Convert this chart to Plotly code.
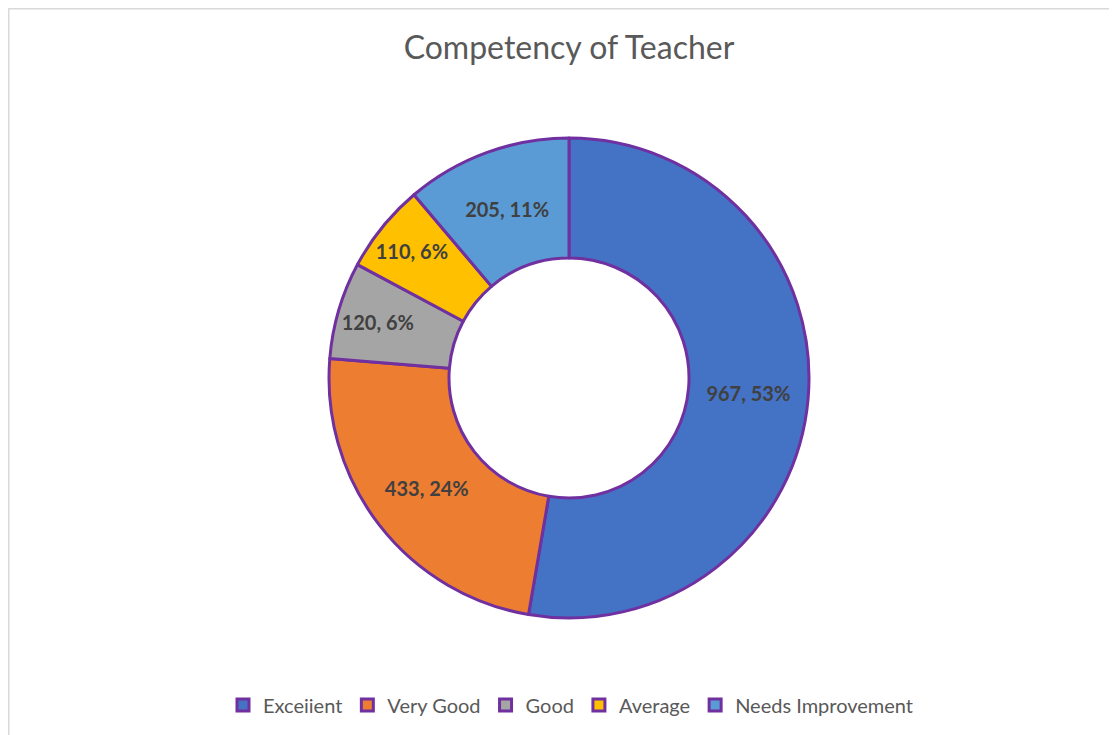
import plotly.graph_objects as go

categories = ["Exceiient", "Very Good", "Good", "Average", "Needs Improvement"]
values = [967, 433, 120, 110, 205]
percent_labels = ["53%", "24%", "6%", "6%", "11%"]
colors = ["#4472C4", "#ED7D31", "#A5A5A5", "#FFC000", "#5B9BD5"]

W, H = 1117, 735
OFF = 8  # page body offset
cx, cy, r = 569 - OFF, 378 - OFF, 240

fig = go.Figure(go.Pie(
    labels=categories,
    values=values,
    customdata=percent_labels,
    texttemplate="<b>%{value}, %{customdata}</b>",
    textposition="inside",
    insidetextorientation="horizontal",
    hole=0.5,
    sort=False,
    direction="clockwise",
    rotation=0,
    marker=dict(colors=colors, line=dict(color="#7030A0", width=3)),
    textfont=dict(family="Lato", size=20, color="#404040"),
    domain=dict(x=[(cx - r) / W, (cx + r) / W], y=[1 - (cy + r) / H, 1 - (cy - r) / H]),
    hoverinfo="label+value+percent",
))

fig.update_layout(
    width=W, height=H,
    margin=dict(l=0, r=0, t=0, b=0),
    paper_bgcolor="white",
    title=dict(text="Competency of Teacher", x=(569 - OFF) / W, xanchor="center", y=1 - (48 - OFF) / H,
               yanchor="middle", font=dict(family="Lato", size=32, color="#595959")),
    legend=dict(orientation="h", x=(571 - OFF) / W, xanchor="center", y=1 - (705 - OFF) / H, yanchor="middle",
                font=dict(family="Lato", size=20, color="#595959"), itemwidth=30, traceorder="normal"),
    uniformtext=dict(minsize=20, mode="show"),
    shapes=[dict(type="rect", xref="paper", yref="paper", x0=0, x1=1.02, y0=-0.02, y1=1,
                 line=dict(color="#D9D9D9", width=3), fillcolor="rgba(0,0,0,0)")],
)

fig.write_html("out.html")
